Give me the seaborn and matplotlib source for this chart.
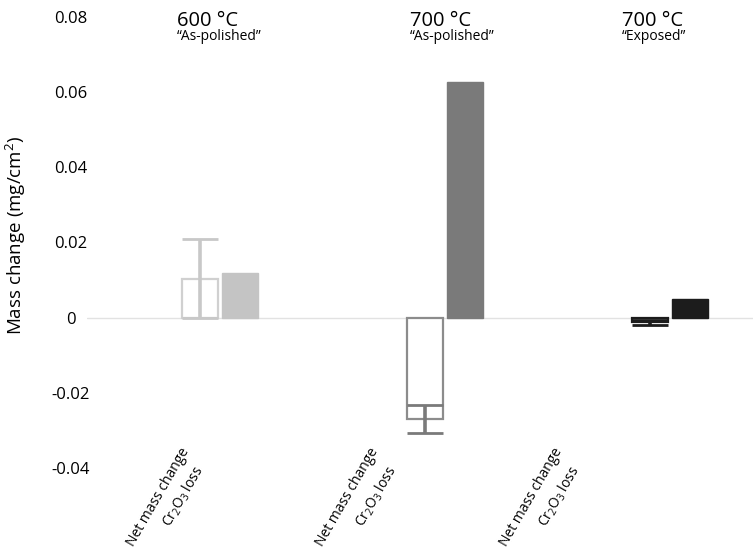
import matplotlib
matplotlib.use("Agg")
import matplotlib.pyplot as plt
import seaborn as sns
import pandas as pd

# data
groups = ["600 °C", "700 °C", "700 °C "]
subtitles = ["\u201cAs-polished\u201d", "\u201cAs-polished\u201d", "\u201cExposed\u201d"]
measures = ["Net mass change", "Cr$_\\mathregular{2}$O$_\\mathregular{3}$ loss"]
net_change = [0.0104, -0.027, -0.0012]
net_err = [0.0104, 0.0037, 0.0007]
cr2o3_loss = [0.012, 0.0627, 0.005]
ytick_vals = [0.08, 0.06, 0.04, 0.02, 0, -0.02, -0.04]
ytick_labels = ["0.08", "0.06", "0.04", "0.02", "0", "-0.02", "-0.04"]
group_colors = ["#c4c4c4", "#7a7a7a", "#1c1c1c"]
err_colors = ["#c8c8c8", "#7a7a7a", "#1c1c1c"]
edge_colors = ["#d0d0d0", "#8c8c8c", "#1c1c1c"]

df = pd.DataFrame({
    "group": groups * 2,
    "measure": [measures[0]] * 3 + [measures[1]] * 3,
    "value": net_change + cr2o3_loss,
})

sns.set_theme(style="white")
plt.rcParams["font.family"] = ["Open Sans", "DejaVu Sans"]
plt.rcParams["mathtext.fontset"] = "custom"
plt.rcParams["mathtext.rm"] = "Open Sans"
plt.rcParams["text.color"] = "black"
plt.rcParams["ytick.color"] = "black"
plt.rcParams["axes.labelcolor"] = "black"

fig = plt.figure(figsize=(7.53, 5.5), dpi=100)
ax = fig.add_axes([87 / 753, 1 - 468 / 550, 1 - 87 / 753, (468 - 17) / 550])

sns.barplot(data=df, x="group", y="value", hue="measure", order=groups,
            hue_order=measures, width=0.36, gap=0.11, errorbar=None,
            palette=["white", "white"], legend=False, ax=ax)

ax.axhline(0, color="#e2e2e2", lw=1.0, zorder=0)

net_bars, cr_bars = ax.containers[0], ax.containers[1]
for i, p in enumerate(net_bars):
    p.set_facecolor("white")
    p.set_edgecolor(edge_colors[i])
    p.set_linewidth(1.6)
    p.set_zorder(2)
for i, p in enumerate(cr_bars):
    p.set_facecolor(group_colors[i])
    p.set_edgecolor(group_colors[i])
    p.set_linewidth(1.0)

for i, p in enumerate(net_bars):
    xc = p.get_x() + p.get_width() / 2
    ax.errorbar(xc, net_change[i], yerr=net_err[i], fmt="none",
                ecolor=err_colors[i], elinewidth=2.6, capsize=13,
                capthick=2.0, zorder=3)

# group headers
head_dx = [-0.19, -0.155, -0.215]
for i in range(3):
    ax.text(i + head_dx[i], 0.0775, groups[i].strip(), fontsize=14.5,
            ha="left", va="baseline", clip_on=False)
    ax.text(i + head_dx[i], 0.0739, subtitles[i], fontsize=10,
            ha="left", va="baseline", clip_on=False)

# slanted category labels
net_lab_x = [-0.151, 0.689, 1.507]
cr_lab_x = [-0.089, 0.769, 1.582]
for i in range(3):
    ax.text(net_lab_x[i], -0.0350, measures[0], rotation=60, fontsize=10,
            ha="right", va="center", rotation_mode="anchor", clip_on=False)
    ax.text(cr_lab_x[i], -0.0398, measures[1], rotation=60, fontsize=10,
            ha="right", va="center", rotation_mode="anchor", clip_on=False)

ax.set_xlim(-0.591, 2.369)
ax.set_ylim(-0.04, 0.08)
ax.set_xticks([])
ax.set_yticks(ytick_vals)
ax.set_yticklabels(ytick_labels, fontsize=12)
ax.tick_params(axis="y", length=0, pad=11.5)
plt.setp(ax.get_yticklabels(), ha="center")
ax.set_xlabel("")
ax.set_ylabel("Mass change (mg/cm$^\\mathregular{2}$)", fontsize=13.5)
ax.yaxis.set_label_coords(-(87 - 28) / (753 - 87), (468 - 235) / 451)
sns.despine(ax=ax, left=True, bottom=True)

fig.savefig("out.png", dpi=100)
